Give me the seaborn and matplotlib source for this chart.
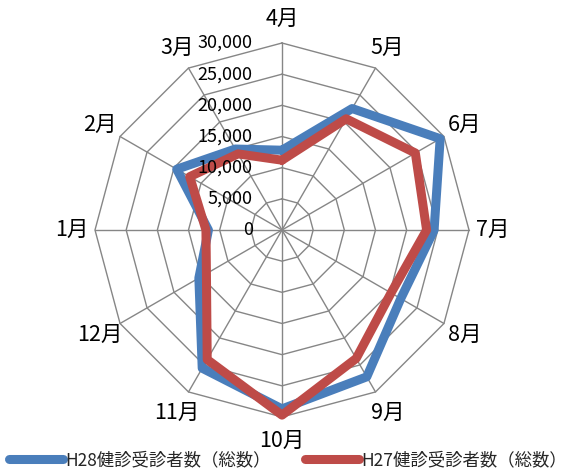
import numpy as np
import pandas as pd
import matplotlib
matplotlib.use('Agg')
import matplotlib.pyplot as plt
import seaborn as sns

# data
months = ['4月', '5月', '6月', '7月', '8月', '9月', '10月', '11月', '12月', '1月', '2月', '3月']
h28 = [12800, 22500, 29300, 24400, 22000, 27200, 28700, 25600, 15400, 11800, 19500, 15000]
h27 = [11200, 20600, 24700, 23200, 20200, 23800, 29700, 24000, 14000, 12200, 17100, 14100]
series_names = ['H28健診受診者数（総数）', 'H27健診受診者数（総数）']
ring_values = [0, 5000, 10000, 15000, 20000, 25000, 30000]
ring_labels = ['0', '5,000', '10,000', '15,000', '20,000', '25,000', '30,000']

sns.set_style('white')
plt.rcParams['font.family'] = ['Noto Sans CJK JP', 'DejaVu Sans']

W, H = 570, 469
cx, cy, R = 282, 230, 187
rmax = 30000
fig = plt.figure(figsize=(W / 100, H / 100), dpi=100)
ax = fig.add_axes([0, 0, 1, 1])
ax.set_xlim(-cx / R * rmax, (W - cx) / R * rmax)
ax.set_ylim(-(H - cy) / R * rmax, cy / R * rmax)
ax.axis('off')

n = len(months)
theta = np.arange(n) * 2 * np.pi / n
grid_col = '#868686'

# polygon rings and spokes
for rv in ring_values[1:]:
    gx = np.append(rv * np.sin(theta), rv * np.sin(theta[0]))
    gy = np.append(rv * np.cos(theta), rv * np.cos(theta[0]))
    ax.plot(gx, gy, color=grid_col, lw=1.0, zorder=1)
for t in theta:
    ax.plot([0, rmax * np.sin(t)], [0, rmax * np.cos(t)], color=grid_col, lw=1.0, zorder=1)

# long-format table for seaborn, closing each polygon
rows = []
for name, vals in zip(series_names, [h28, h27]):
    for i in list(range(n)) + [0]:
        rows.append({'series': name, 'order': len(rows),
                     'x': vals[i] * np.sin(theta[i]), 'y': vals[i] * np.cos(theta[i])})
df = pd.DataFrame(rows)

n_before = len(ax.lines)
sns.lineplot(data=df, x='x', y='y', hue='series', hue_order=series_names,
             palette=['#4a7ebb', '#be4b48'], sort=False, estimator=None,
             linewidth=6.5, legend=False, ax=ax, zorder=3)
series_lines = ax.lines[n_before:]
for ln in series_lines:
    ln.set_solid_joinstyle('round')

# month labels
lab_r = 33800
for t, m in zip(theta, months):
    ax.text(lab_r * np.sin(t), lab_r * np.cos(t), m, ha='center', va='center',
            fontsize=15.5, color='black')

# radial value labels
for rv, rl in zip(ring_values, ring_labels):
    ax.text(-4700, rv, rl, ha='right', va='center', fontsize=13, color='black')

leg = ax.legend(series_lines, series_names, loc='center', bbox_to_anchor=(288 / W, 9 / H),
                ncol=2, frameon=False, fontsize=12.5, handlelength=3.1,
                handletextpad=0.1, columnspacing=2.0, borderaxespad=0, borderpad=0)
for h in leg.legend_handles:
    h.set_linewidth(6.5)

fig.savefig('out.png', dpi=100)
